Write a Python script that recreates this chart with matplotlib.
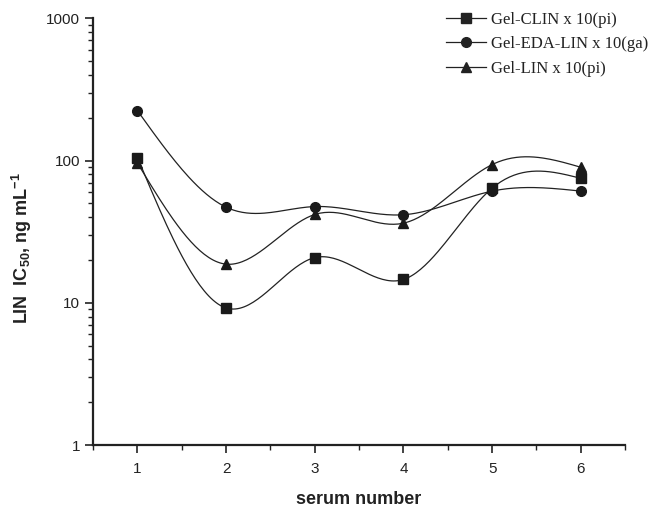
import numpy as np
import matplotlib
matplotlib.use("Agg")
import matplotlib.pyplot as plt
from matplotlib.ticker import LogLocator, NullFormatter, MultipleLocator

serum = [1, 2, 3, 4, 5, 6]
clin = [105, 9.2, 20.8, 14.6, 64, 75]
eda = [224, 47, 47.5, 41.6, 61, 61]
lin = [96, 18.7, 41.8, 36.3, 93.7, 89.7]

labels = ["Gel-CLIN x 10(pi)", "Gel-EDA-LIN x 10(ga)", "Gel-LIN x 10(pi)"]
markers = ["s", "o", "^"]

plt.rcParams["mathtext.fontset"] = "custom"
plt.rcParams["mathtext.rm"] = "Liberation Sans:bold"
plt.rcParams["mathtext.bf"] = "Liberation Sans:bold"


def natural_spline(x, y, n=200):
    # plain natural cubic spline, only used to draw the smooth connecting line
    x = np.asarray(x, float)
    y = np.asarray(y, float)
    k = len(x)
    h = np.diff(x)
    A = np.zeros((k, k))
    b = np.zeros(k)
    A[0, 0] = A[-1, -1] = 1
    for i in range(1, k - 1):
        A[i, i - 1] = h[i - 1]
        A[i, i] = 2 * (h[i - 1] + h[i])
        A[i, i + 1] = h[i]
        b[i] = 3 * ((y[i + 1] - y[i]) / h[i] - (y[i] - y[i - 1]) / h[i - 1])
    c = np.linalg.solve(A, b)
    xs = np.linspace(x[0], x[-1], n)
    idx = np.clip(np.searchsorted(x, xs) - 1, 0, k - 2)
    dx = xs - x[idx]
    hi = h[idx]
    bb = (y[idx + 1] - y[idx]) / hi - hi * (2 * c[idx] + c[idx + 1]) / 3
    dd = (c[idx + 1] - c[idx]) / (3 * hi)
    ys = y[idx] + bb * dx + c[idx] * dx ** 2 + dd * dx ** 3
    return xs, ys


fig = plt.figure(figsize=(6.56, 5.07), dpi=100)
ax = fig.add_axes([0.142, 0.122, 0.811, 0.842])

for vals, lab, m in zip([clin, eda, lin], labels, markers):
    xs, ys = natural_spline(serum, np.log10(vals))
    ax.plot(xs, 10 ** ys, color="#222222", lw=0.9)
    ax.plot(serum, vals, linestyle="none", marker=m, ms=7.5 if m == "^" else 7,
            color="#1a1a1a")
    ax.plot([], [], color="#222222", lw=0.9, marker=m, ms=7, label=lab)

ax.set_yscale("log")
ax.set_ylim(1, 1000)
ax.set_xlim(0.5, 6.5)
ax.set_xticks(serum)
ax.xaxis.set_minor_locator(MultipleLocator(0.5))
ax.yaxis.set_major_locator(LogLocator(base=10))
ax.yaxis.set_minor_locator(LogLocator(base=10, subs=np.arange(2, 10)))
ax.yaxis.set_minor_formatter(NullFormatter())
ax.set_yticks([1, 10, 100, 1000])
ax.set_yticklabels(["1", "10", "100", "1000"])

for s in ["top", "right"]:
    ax.spines[s].set_visible(False)
for s in ["left", "bottom"]:
    ax.spines[s].set_linewidth(1.6)
    ax.spines[s].set_color("#222222")

ax.tick_params(which="major", direction="out", length=6, width=1.2,
               labelsize=11, colors="#222222")
ax.tick_params(axis="x", which="major", pad=6)
ax.tick_params(which="minor", direction="out", length=3.5, width=1.0,
               colors="#222222")
for t in ax.get_xticklabels() + ax.get_yticklabels():
    t.set_fontfamily("Liberation Sans")
    t.set_color("#222222")

fig.text(359 / 656, 1 - 500 / 507, "serum number", fontfamily="Liberation Sans",
         fontweight="bold", fontsize=13, color="#222222", ha="center", va="center")
fig.text(22 / 656, 1 - 248 / 507, "LIN  IC$_{50}$, ng mL$^{-1}$",
         fontfamily="Liberation Sans", fontweight="bold", fontsize=13,
         color="#222222", ha="center", va="center", rotation=90)

leg = ax.legend(loc="upper right", bbox_to_anchor=(1.072, 1.05), frameon=False,
                prop={"family": "Liberation Serif", "size": 12},
                handlelength=2.4, handletextpad=0.3, labelspacing=0.5)
for t in leg.get_texts():
    t.set_color("#222222")

fig.savefig("out.png", dpi=100)
